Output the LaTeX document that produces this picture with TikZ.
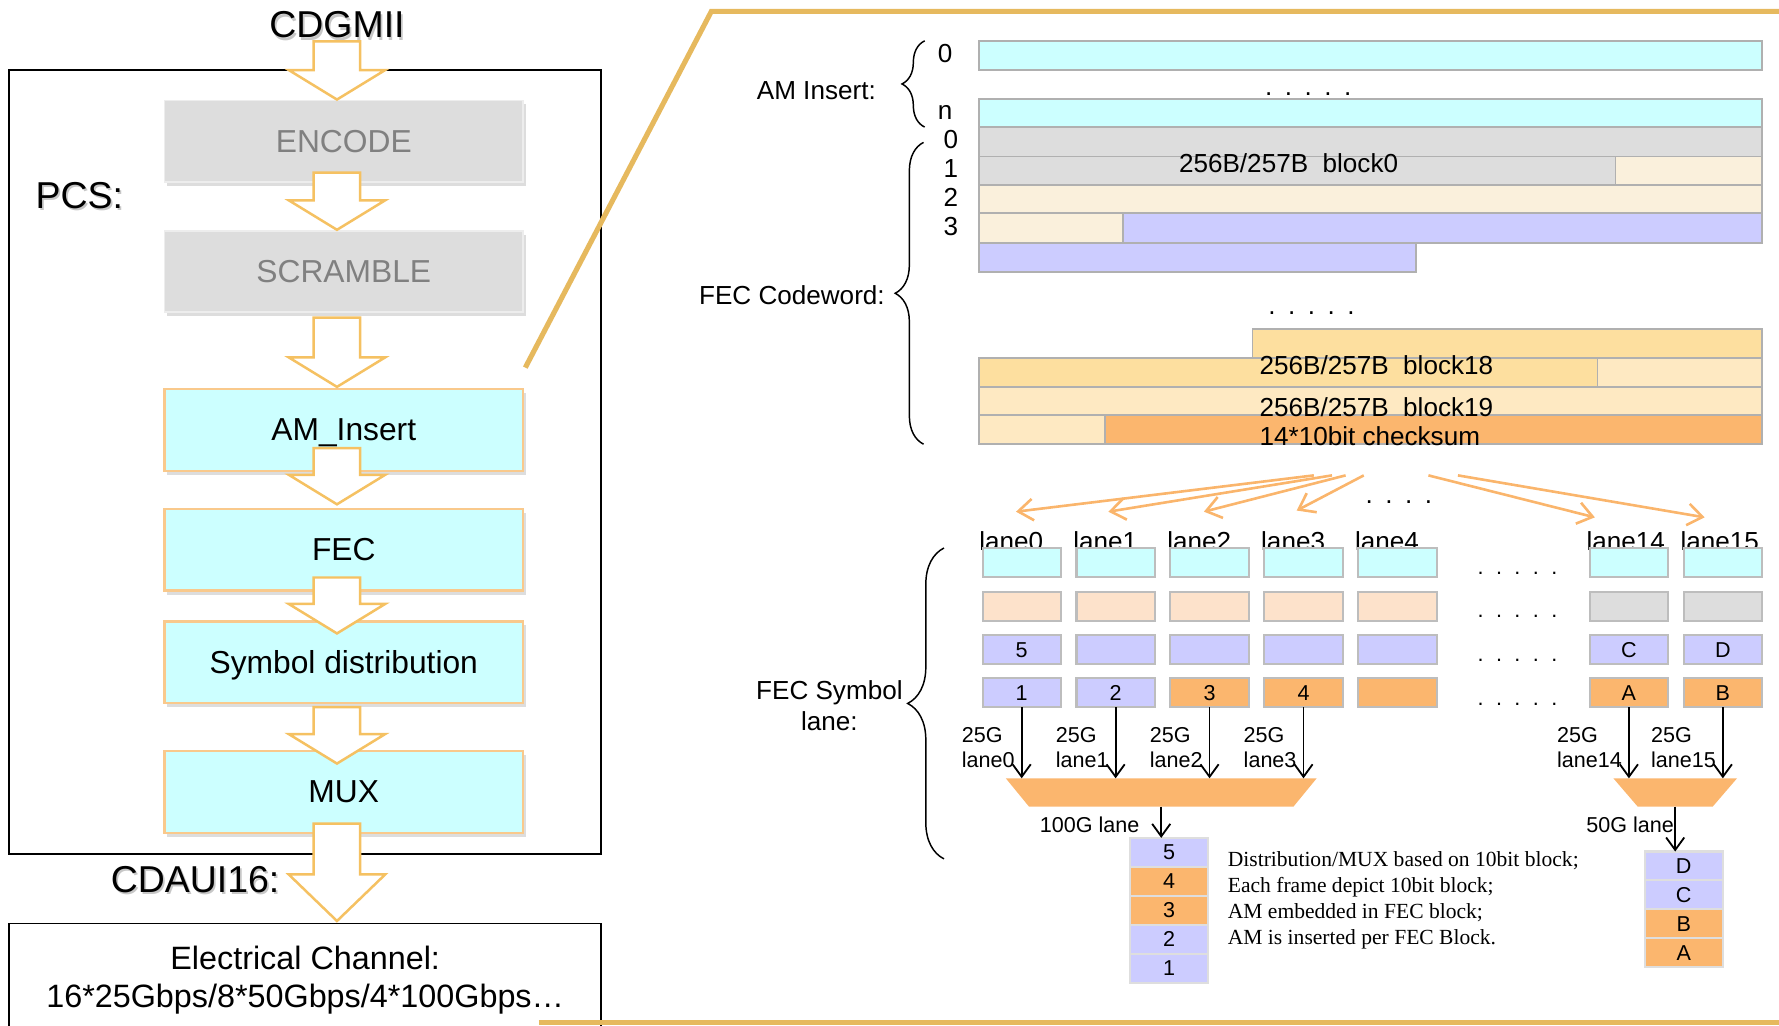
\documentclass[tikz,border=0pt]{standalone}
\usepackage{fontspec}
\setmainfont{Liberation Sans}
\newfontfamily\notefont{Liberation Serif}
\usetikzlibrary{positioning,calc,shadows,arrows.meta,decorations.pathreplacing}

\definecolor{amcyan}{HTML}{CCFFFF}
\definecolor{stagegray}{HTML}{DDDDDD}
\definecolor{fadedtext}{HTML}{808080}
\definecolor{stageedge}{HTML}{F9C98C}
\definecolor{flowedge}{HTML}{F5C162}
\definecolor{calloutgold}{HTML}{E6B95E}
\definecolor{padbeige}{HTML}{FAF0DC}
\definecolor{lavender}{HTML}{CCCCFF}
\definecolor{blkorange}{HTML}{FDDF9F}
\definecolor{blklight}{HTML}{FEE9C2}
\definecolor{chkorange}{HTML}{FBB66E}
\definecolor{peach}{HTML}{FDE2CB}
\definecolor{fanorange}{HTML}{FAB56C}
\definecolor{bargray}{HTML}{B0B0B0}
\definecolor{cellgray}{HTML}{BDBDBD}
\definecolor{cellpale}{HTML}{DEDEDE}

\newcommand{\fivedots}{.\hspace{11pt}.\hspace{11pt}.\hspace{11pt}.\hspace{11pt}.}
\newcommand{\fourdots}{.\hspace{11pt}.\hspace{11pt}.\hspace{11pt}.}
% white block arrow: [head length]{shaft top}{tip}
\newcommand{\flowarrow}[3][26]{%
  \draw[flowarr] ($(#2)+(-20.5,0)$) -- ($(#2)+(20.5,0)$) -- ($(#3)+(20.5,-#1)$)
    -- ($(#3)+(42.5,-#1)$) -- (#3) -- ($(#3)+(-42.5,-#1)$) -- ($(#3)+(-20.5,-#1)$) -- cycle;}
% big label with a soft shadow: {name}{position}{text}
\newcommand{\shadowed}[3]{%
  \node[bigtxt, text=black, opacity=.22] (#1-sh) at ($(#2)+(1.5,2)$) {#3};
  \node[bigtxt] (#1) at (#2) {#3};}

\tikzset{
  bigtxt/.style={inner sep=0pt, font=\fontsize{33}{38}\selectfont},
  stagebox/.style={rectangle, minimum width=316, minimum height=72, inner sep=0pt,
    text depth=0pt, font=\fontsize{28}{32}\selectfont,
    drop shadow={shadow xshift=2.5pt, shadow yshift=-3.5pt, opacity=.22, fill=black!60}},
  graystage/.style={stagebox, fill=stagegray, draw=white!93!black, line width=1.5, text=fadedtext},
  cyanstage/.style={stagebox, fill=amcyan, draw=stageedge, line width=2},
  flowarr/.style={fill=white, draw=flowedge, line width=2.2},
  callout/.style={draw=calloutgold, line width=4.5},
  fecbar/.style={draw=bargray, line width=1.5},
  lbl/.style={inner sep=0pt, font=\fontsize{23}{26}\selectfont},
  smalltxt/.style={inner sep=0pt, font=\fontsize{19}{22}\selectfont},
  cell/.style={rectangle, minimum width=69, minimum height=25.5, inner sep=0pt, outer sep=0pt,
    draw=cellgray, line width=1.8, font=\fontsize{19}{22}\selectfont},
  setbrace/.style={decorate, decoration={brace, amplitude=#1}, line width=1.3},
  fanarr/.style={draw=fanorange, line width=2.3, -{Straight Barb[length=13pt, width=19pt]}},
  symarr/.style={line width=1.6, -{Straight Barb[length=11pt, width=16pt]}},
  muxframe/.style={rectangle, minimum height=25, inner sep=0pt, outer sep=0pt},
}

\begin{document}
\begin{tikzpicture}[x=1pt, y=-1pt]
  \useasboundingbox (0,0) rectangle (1568,904);
  \clip (0,0) rectangle (1568,904);

  % ---- PCS stack ----
  \node[draw, line width=1.5, fill=white, minimum width=522, minimum height=691, inner sep=0pt] (pcs) at (269,407.5) {};
  \node[draw, line width=1.5, fill=white, minimum width=522, minimum height=100, inner sep=0pt,
    align=center, font=\fontsize{28.5}{34}\selectfont] (elec) at (269,864) {Electrical Channel:\\16*25Gbps/8*50Gbps/4*100Gbps…};

  \shadowed{cdgmii}{297,22}{CDGMII}
  \shadowed{pcslbl}{70,172}{PCS:}
  \shadowed{cdaui}{172,775}{CDAUI16:}

  \node[graystage] (encode) at (303,124.5) {ENCODE};
  \node[graystage] (scramble) at (303,239.3) {SCRAMBLE};
  \node[cyanstage] (aminsert) at (303,379) {AM\_Insert};
  \node[cyanstage] (fec) at (303,484.5) {FEC};
  \node[cyanstage] (symdist) at (303,583.8) {Symbol distribution};
  \node[cyanstage] (mux) at (303,698) {MUX};

  \coordinate (f1a) at ($(cdgmii.south)+(0,2.5)$);
  \coordinate (f1b) at ($(encode.north)+(-6,0)$);
  \coordinate (f2a) at ($(encode.south)+(-6,-9)$);
  \coordinate (f2b) at ($(scramble.north)+(-6,0)$);
  \coordinate (f3a) at ($(scramble.south)+(-6,4)$);
  \coordinate (f3b) at ($(aminsert.north)+(-6,-1)$);
  \coordinate (f4a) at ($(aminsert.south)+(-6,-21)$);
  \coordinate (f4b) at ($(fec.north)+(-6,-3)$);
  \coordinate (f5a) at ($(fec.south)+(-6,-12.5)$);
  \coordinate (f5b) at ($(symdist.north)+(-6,11.5)$);
  \coordinate (f6a) at ($(symdist.south)+(-6,2.5)$);
  \coordinate (f6b) at ($(mux.north)+(-6,12)$);
  \coordinate (f7a) at ($(mux.south)+(-6,-9)$);
  \coordinate (f7b) at ($(f7a |- elec.north)+(0,-1.5)$);
  \flowarrow{f1a}{f1b}
  \flowarrow{f2a}{f2b}
  \flowarrow{f3a}{f3b}
  \flowarrow{f4a}{f4b}
  \flowarrow{f5a}{f5b}
  \flowarrow{f6a}{f6b}
  \flowarrow[41]{f7a}{f7b}

  % callout frame
  \draw[callout] ($(aminsert.north east)+(1,-18)$) -- (627,10) -- (1568,10);
  \draw[callout] (475,901.5) -- (1568,901.5);

  % ---- AM insert rows ----
  \node[lbl] (amlbl) at (719.5,80) {AM Insert:};
  \draw[setbrace=20] (815,112) -- (815,36);
  \node[lbl] (am0) at (833,47) {0};
  \node[lbl] (amn) at (833,99) {n};
  \draw[fecbar, fill=amcyan] (863,36) rectangle (1553,62);
  \node[lbl, anchor=base] (amdots) at (1153,84) {\fivedots};
  \draw[fecbar, fill=amcyan] (863,87) rectangle (1553,112);

  % ---- FEC codeword ----
  \node[lbl] (cwlbl) at (698,260) {FEC Codeword:};
  \draw[setbrace=25] (814,391.5) -- (814,125.5);
  \foreach \k/\y in {0/123,1/148.5,2/174,3/199.5}
    \node[lbl] (cw\k) at (838,\y) {\k};

  \draw[fecbar, fill=stagegray] (863,112.5) rectangle (1553,138);
  \draw[fecbar, fill=stagegray] (863,138) rectangle (1424,163);
  \draw[fecbar, fill=padbeige] (1424,138) rectangle (1553,163);
  \draw[fecbar, fill=padbeige] (863,163) rectangle (1553,188);
  \draw[fecbar, fill=padbeige] (863,188) rectangle (990,214);
  \draw[fecbar, fill=lavender] (990,188) rectangle (1553,214);
  \draw[fecbar, fill=lavender] (863,214) rectangle (1248,240);
  \node[lbl, anchor=west] (blk0) at (1039,144) {256B/257B\ \ block0};

  \node[lbl, anchor=base] (cwdots) at (1156,277) {\fivedots};

  \draw[fecbar, fill=blkorange] (1104,290) rectangle (1553,315.5);
  \draw[fecbar, fill=blkorange] (863,315.5) rectangle (1408,341);
  \draw[fecbar, fill=blklight] (1408,315.5) rectangle (1553,341);
  \draw[fecbar, fill=blklight] (863,341) rectangle (1553,366);
  \draw[fecbar, fill=blklight] (863,366) rectangle (974,391.5);
  \draw[fecbar, fill=chkorange] (974,366) rectangle (1553,391.5);
  \node[lbl, anchor=west] (blk18) at (1110,322) {256B/257B\ \ block18};
  \node[lbl, anchor=west] (blk19) at (1110,358.5) {256B/257B\ \ block19};
  \node[lbl, anchor=west] (chk) at (1110,384) {14*10bit checksum};

  % ---- FEC symbol lanes ----
  \node[lbl, align=center, font=\fontsize{23}{28}\selectfont] (symlbl) at (731,622) {FEC Symbol\\lane:};
  \draw[setbrace=32] (832,757) -- (832,483);

  \foreach \i/\x/\cb/\tc/\cd/\td in {0/866/peach/5/lavender/1, 1/948.8/peach/{}/lavender/2,
      2/1031.6/peach/{}/chkorange/3, 3/1114.4/peach/{}/chkorange/4, 4/1197.2/peach/{}/chkorange/{},
      14/1401.2/stagegray/C/chkorange/A, 15/1484/stagegray/D/chkorange/B}{
    \node[lbl, anchor=base west] (lab\i) at (\x-3,485.5) {lane\i};
    \node[cell, fill=amcyan] (r\i-1) at (\x+34.5,495.75) {};
    \node[cell, fill=\cb] (r\i-2) at (\x+34.5,534.25) {};
    \node[cell, fill=lavender] (r\i-3) at (\x+34.5,572.75) {\tc};
    \node[cell, fill=\cd] (r\i-4) at (\x+34.5,610.75) {\td};
  }
  \foreach \y [count=\n] in {506,544,583,622}
    \node[smalltxt, anchor=base] (gap\n) at (1337.5,\y) {\fivedots};

  % fan-out from the codeword
  \node[lbl, anchor=base] (fandots) at (1233,444) {\fourdots};
  \foreach \i/\sx/\dx/\dy in {0/1158/-5/-32, 1/1174/-6.4/-32, 2/1186/-5/-32, 3/1202/-6/-33,
      14/1259/-30/-27, 15/1285/-16/-27}{
    \coordinate (src\i) at (\sx,419);
    \draw[fanarr] (src\i) -- ($(r\i-1.north)+(\dx,\dy)$);
  }

  % ---- muxes (frame node + tapered fill) ----
  \node[muxframe, minimum width=274] (mux100) at (1023.5,698.5) {};
  \fill[chkorange] (mux100.north west) -- (mux100.north east) -- ($(mux100.south east)+(-20.5,0)$)
    -- ($(mux100.south west)+(20.5,0)$) -- cycle;
  \node[muxframe, minimum width=109] (mux50) at (1476.5,698.5) {};
  \fill[chkorange] (mux50.north west) -- (mux50.north east) -- ($(mux50.south east)+(-21.5,0)$)
    -- ($(mux50.south west)+(21.5,0)$) -- cycle;

  \foreach \i/\m in {0/mux100, 1/mux100, 2/mux100, 3/mux100, 14/mux50, 15/mux50}{
    \draw[symarr] (r\i-4.south) -- (r\i-4.south |- \m.north);
    \node[smalltxt, align=left, anchor=east] (rate\i) at ($(r\i-4.south)+(-6,35)$) {25G\\lane\i};
  }

  % 100G output
  \node[cell, draw=cellpale, fill=lavender] (s5) at (1030.5,751.25) {5};
  \node[cell, draw=cellpale, fill=chkorange, below=0pt of s5] (s4) {4};
  \node[cell, draw=cellpale, fill=chkorange, below=0pt of s4] (s3) {3};
  \node[cell, draw=cellpale, fill=lavender, below=0pt of s3] (s2) {2};
  \node[cell, draw=cellpale, fill=lavender, below=0pt of s2] (s1) {1};
  \draw[symarr] (mux100.south) -- (mux100.south |- s5.north);
  \node[smalltxt, anchor=east] (lbl100) at ($(mux100.south)+(-19,16)$) {100G lane};

  % 50G output
  \node[cell, draw=cellpale, fill=lavender] (sD) at (1484,763.25) {D};
  \node[cell, draw=cellpale, fill=lavender, below=0pt of sD] (sC) {C};
  \node[cell, draw=cellpale, fill=chkorange, below=0pt of sC] (sB) {B};
  \node[cell, draw=cellpale, fill=chkorange, below=0pt of sB] (sA) {A};
  \draw[symarr] (mux50.south) -- (mux50.south |- sD.north);
  \node[smalltxt, anchor=east] (lbl50) at ($(mux50.south)+(-1,16)$) {50G lane};

  \node[anchor=north west, inner sep=0pt, align=left, font=\notefont\fontsize{19}{23}\selectfont] (note) at (1082,750)
    {Distribution/MUX based on 10bit block;\\Each frame depict 10bit block;\\AM embedded in FEC block;\\AM is inserted per FEC Block.};
\end{tikzpicture}
\end{document}
